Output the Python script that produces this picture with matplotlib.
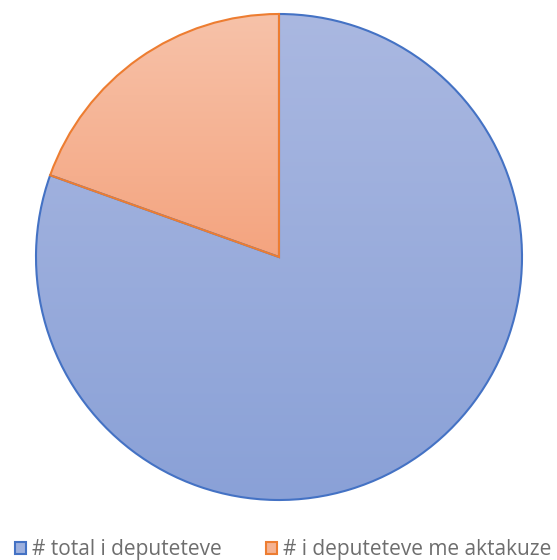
import matplotlib
matplotlib.use("Agg")
import matplotlib.pyplot as plt
import numpy as np
from matplotlib.patches import Patch
from matplotlib.colors import LinearSegmentedColormap

labels = ["# total i deputeteve", "# i deputeteve me aktakuze"]
values = [140, 34]
edge_colors = ["#4472C4", "#ED7D31"]
grad_top = ["#AAB8E1", "#F7C2A9"]
grad_bot = ["#8AA1D7", "#F4A47F"]

W, H = 557, 560
fig = plt.figure(figsize=(W / 100, H / 100), dpi=100)
ax = fig.add_axes([0, 0, 1, 1])
ax.set_xlim(0, W)
ax.set_ylim(0, H)
ax.set_aspect("equal")
ax.axis("off")

cx, cy, r = 279, H - 257, 243
wedges, _ = ax.pie(values, startangle=90, counterclock=False, radius=r,
                   center=(cx, cy), frame=True,
                   wedgeprops=dict(linewidth=1.5, joinstyle="miter"))
ax.set_xlim(0, W)
ax.set_ylim(0, H)
ax.axis("off")

for w, ec, t, b in zip(wedges, edge_colors, grad_top, grad_bot):
    w.set_facecolor("none")
    w.set_edgecolor(ec)
    w.set_zorder(3)
    path = w.get_path()
    verts = w.get_transform().transform(path.vertices)
    verts = ax.transData.inverted().transform(verts)
    x0, x1 = verts[:, 0].min(), verts[:, 0].max()
    y0, y1 = verts[:, 1].min(), verts[:, 1].max()
    cmap = LinearSegmentedColormap.from_list("g", [b, t])
    grad = np.linspace(0, 1, 256).reshape(-1, 1)
    im = ax.imshow(grad, extent=[x0, x1, y0, y1], origin="lower", cmap=cmap,
                   aspect="auto", zorder=2, interpolation="bilinear")
    im.set_clip_path(w)

handles = [Patch(facecolor=c, edgecolor=e, linewidth=1.5)
           for c, e in zip(["#9DB0DE", "#F5B291"], edge_colors)]
leg = ax.legend(handles, labels, loc="center", bbox_to_anchor=(283 / W, (H - 550) / H),
                bbox_transform=fig.transFigure, ncol=2, frameon=False,
                prop={"family": "Open Sans", "size": 15}, labelcolor="#6E6E6E",
                handlelength=0.55, handleheight=0.55, handletextpad=0.28,
                columnspacing=2.1, borderpad=0, borderaxespad=0)

fig.savefig("out.png", dpi=100)
